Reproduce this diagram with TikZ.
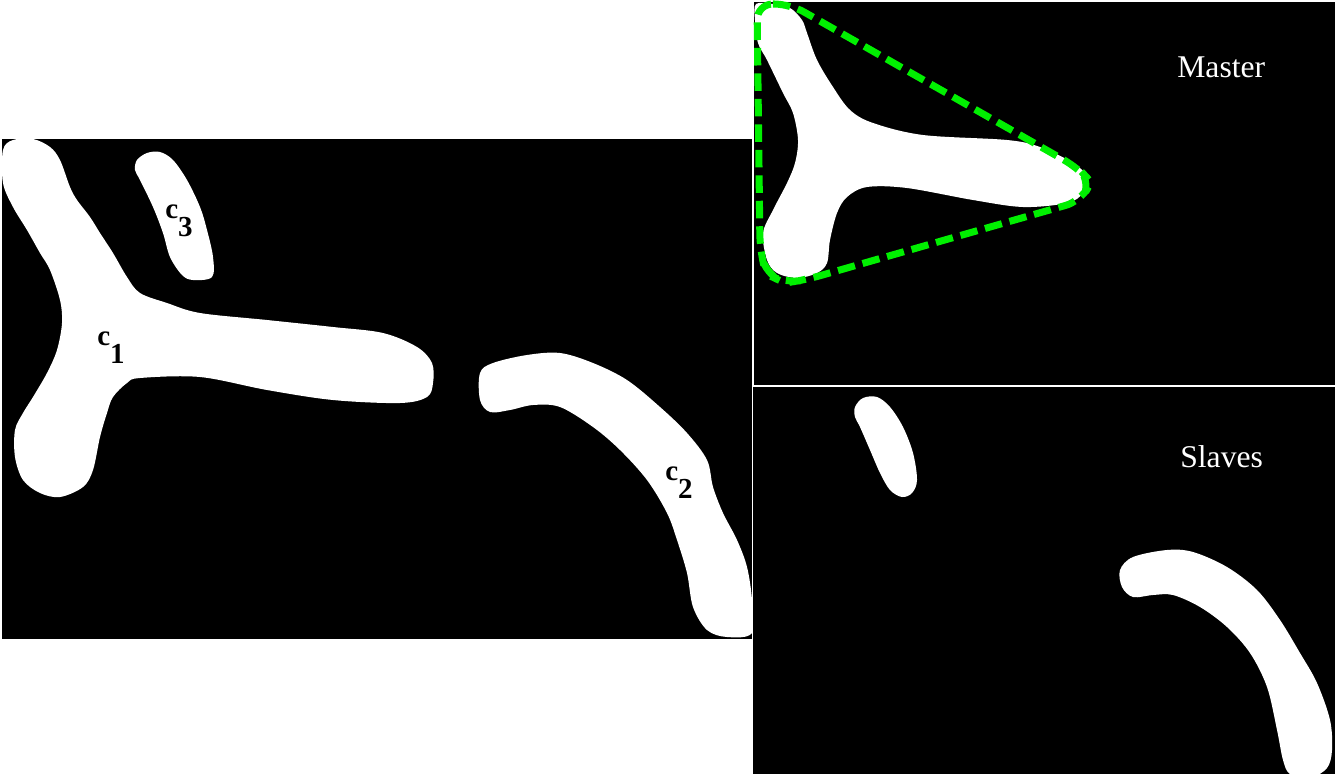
\documentclass[tikz,border=0pt]{standalone}
\usepackage{fontspec}
\setmainfont{Liberation Serif}
\definecolor{hullgreen}{RGB}{0,240,0}
\begin{document}
\begin{tikzpicture}[x=0.02cm,y=-0.02cm,
  panel/.style={fill=black},
  blob/.style={fill=white},
  hull/.style={draw=hullgreen,line width=4pt,dash pattern=on 10pt off 4.5pt,rounded corners=9pt},
  tag/.style={text=black,font=\fontsize{16.5}{16.5}\selectfont\bfseries,inner sep=0pt,anchor=base west},
  title/.style={text=white,font=\fontsize{18}{18}\selectfont,inner sep=0pt,anchor=base west}]
  \useasboundingbox[fill=white] (0,0) rectangle (1337,774);
  % Segmented image with three components
  \fill[panel] (2,139) rectangle (752,639);
  \begin{scope}
    \clip (2,139) rectangle (752,639);
    \fill[blob] plot[smooth cycle,tension=0.55] coordinates {(3,150) (13,140) (33,139) (50,147) (60,160) (70,187) (77,200) (90,217) (100,233) (113,253) (127,277) (140,293) (167,303) (200,313) (267,320) (333,327) (383,333) (417,347) (432,363) (433,383) (427,397) (400,403) (333,400) (267,390) (200,377) (140,378) (127,383) (113,397) (107,413) (100,437) (93,470) (83,487) (60,497) (40,493) (23,480) (15,457) (15,430) (23,413) (33,397) (47,373) (57,350) (62,323) (60,300) (50,270) (40,253) (27,230) (13,207) (3,183)};
    \fill[blob] plot[smooth cycle,tension=0.55] coordinates {(137,160) (147,153) (160,152) (173,160) (187,180) (200,207) (207,230) (213,257) (212,277) (193,280) (182,275) (170,257) (163,233) (153,207) (140,180) (135,170)};
    \fill[blob] plot[smooth cycle,tension=0.55] coordinates {(480,373) (493,363) (527,355) (560,353) (593,363) (627,380) (660,407) (687,433) (707,460) (713,487) (723,513) (737,540) (747,567) (752,600) (752,633) (727,637) (707,630) (693,607) (687,573) (677,540) (667,513) (647,480) (620,450) (593,427) (560,407) (533,405) (510,410) (490,412) (480,400)};
  \end{scope}
  \node[tag] (c1) at (97,345) {c\raisebox{-0.65em}{1}};
  \node[tag] (c3) at (165,218) {c\raisebox{-0.65em}{3}};
  \node[tag] (c2) at (665,480) {c\raisebox{-0.65em}{2}};
  % Master component and its hull
  \fill[panel] (754,2) rectangle (1335,385);
  \begin{scope}
    \clip (754,2) rectangle (1335,385);
    \fill[blob] plot[smooth cycle,tension=0.55] coordinates {(756,4) (773,4) (790,8) (802,20) (807,33) (817,60) (833,87) (850,110) (873,123) (923,135) (1007,140) (1040,147) (1073,163) (1087,177) (1083,193) (1067,203) (1023,207) (973,200) (907,188) (867,187) (847,197) (837,213) (830,240) (827,263) (817,273) (797,278) (777,273) (767,260) (763,233) (773,210) (787,183) (795,163) (798,140) (793,113) (783,93) (767,60) (758,43) (755,20)};
  \end{scope}
  \draw[hull] (757,4) -- (790,4) -- (1078,168) -- (1091,182) -- (1081,201) -- (805,280) -- (785,283) -- (766,274) -- (760,250) -- cycle;
  \node[title] (master) at (1177,77) {Master};
  % Slave components
  \fill[panel] (753,387) rectangle (1335,774);
  \begin{scope}
    \clip (753,387) rectangle (1335,774);
    \fill[blob] plot[smooth cycle,tension=0.55] coordinates {(855,407) (863,398) (877,397) (890,407) (903,427) (913,453) (917,480) (912,493) (902,497) (890,490) (880,473) (870,450) (860,427) (855,417)};
    \fill[blob] plot[smooth cycle,tension=0.55] coordinates {(1120,570) (1133,557) (1167,550) (1193,552) (1227,567) (1257,590) (1280,620) (1300,653) (1317,683) (1330,720) (1332,750) (1327,768) (1310,778) (1290,774) (1283,760) (1277,730) (1267,687) (1250,653) (1227,627) (1200,607) (1173,595) (1153,595) (1133,597) (1122,587)};
  \end{scope}
  \node[title] (slaves) at (1180,467) {Slaves};
\end{tikzpicture}
\end{document}
